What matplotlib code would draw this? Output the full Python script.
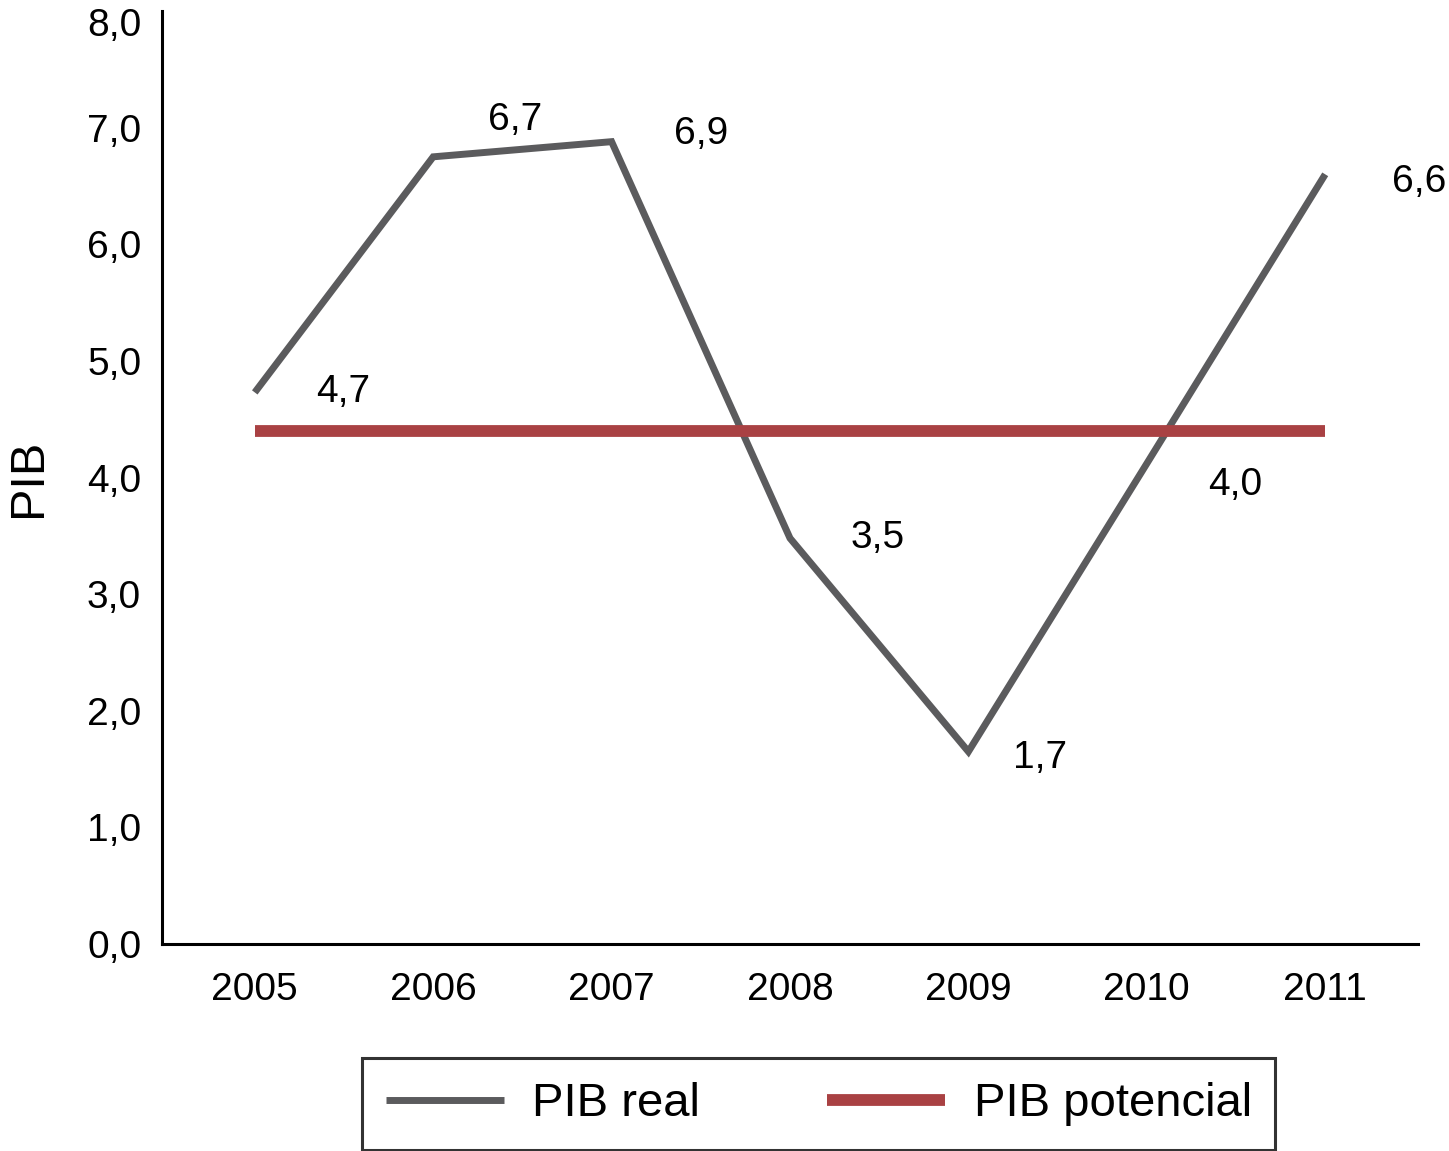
import matplotlib
matplotlib.use("Agg")
import matplotlib.pyplot as plt
import matplotlib.transforms as mtransforms
from matplotlib import font_manager

years = ["2005", "2006", "2007", "2008", "2009", "2010", "2011"]
pib_real = [4.73, 6.75, 6.88, 3.48, 1.65, 4.12, 6.6]
pib_labels = ["4,7", "6,7", "6,9", "3,5", "1,7", "4,0", "6,6"]
pib_potencial = [4.4, 4.4, 4.4, 4.4, 4.4, 4.4, 4.4]
yticks = [0, 1, 2, 3, 4, 5, 6, 7, 8]
ytick_labels = ["0,0", "1,0", "2,0", "3,0", "4,0", "5,0", "6,0", "7,0", "8,0"]

names = {f.name for f in font_manager.fontManager.ttflist}
base = "Liberation Sans" if "Liberation Sans" in names else "DejaVu Sans"
plt.rcParams['font.family'] = [base, 'DejaVu Sans']

fig = plt.figure(figsize=(14.49, 11.51), dpi=100)
ax = fig.add_axes([0.1118, 0.1798, 0.9786 - 0.1118, 0.9904 - 0.1798])
x = list(range(len(years)))

l1, = ax.plot(x, pib_real, color="#5b5b5d", lw=5, solid_capstyle="butt", solid_joinstyle="miter", label="PIB real")
l2, = ax.plot(x, pib_potencial, color="#a94143", lw=8.5, solid_capstyle="butt", label="PIB potencial")
ax.set_xlim(-0.52, 6.52)
ax.set_ylim(0, 8)

offsets = [(88, 0), (82, 37), (90, 8), (88, 0), (72, -6), (88, -21), (94, -8)]
for xi, yi, lab, off in zip(x, pib_real, pib_labels, offsets):
    ax.annotate(lab, (xi, yi), xytext=off, textcoords="offset pixels",
                ha="center", va="center", fontsize=28, color="black")

ax.set_xticks(x)
ax.set_xticklabels(years, fontsize=28)
ax.set_yticks(yticks)
ax.set_yticklabels(ytick_labels, fontsize=28)
ax.tick_params(axis="x", length=0, pad=20)
ax.tick_params(axis="y", length=0, pad=15)
# top label sits slightly below its tick in the reference
top_lab = ax.get_yticklabels()[-1]
top_lab.set_transform(top_lab.get_transform() + mtransforms.ScaledTranslation(0, -11 / 100, fig.dpi_scale_trans))
for s in ["top", "right"]:
    ax.spines[s].set_visible(False)
for s in ["left", "bottom"]:
    ax.spines[s].set_linewidth(2.2)
    ax.spines[s].set_color("black")
ax.set_ylabel("PIB", fontsize=35, labelpad=26)

leg = fig.legend(handles=[l1, l2], loc="center", bbox_to_anchor=(0.565, 0.0408), ncol=2,
                 prop={"size": 34}, handlelength=2.5,
                 handletextpad=0.6, columnspacing=2.7, frameon=True, fancybox=False,
                 borderpad=0.5, borderaxespad=0, edgecolor="black")
leg.get_frame().set_linewidth(2.2)

fig.savefig("out.png", dpi=100)
